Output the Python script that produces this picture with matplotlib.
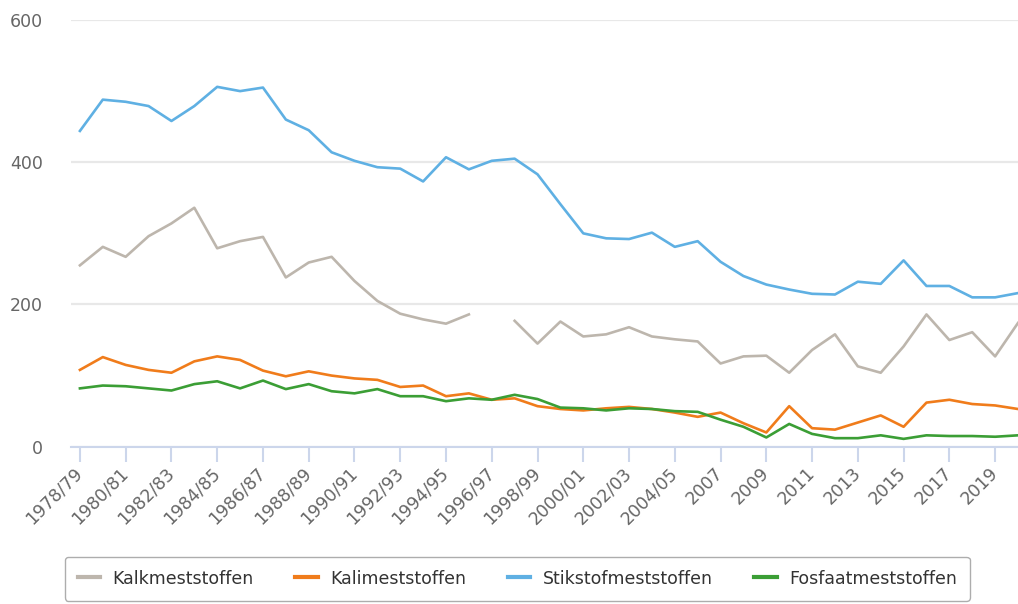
import numpy as np
import matplotlib.pyplot as plt

periods = ["1978/79", "1979/80", "1980/81", "1981/82", "1982/83", "1983/84",
           "1984/85", "1985/86", "1986/87", "1987/88", "1988/89", "1989/90",
           "1990/91", "1991/92", "1992/93", "1993/94", "1994/95", "1995/96",
           "1996/97", "1997/98", "1998/99", "1999/00", "2000/01", "2001/02",
           "2002/03", "2003/04", "2004/05", "2005/06", "2007", "2008", "2009",
           "2010", "2011", "2012", "2013", "2014", "2015", "2016", "2017",
           "2018", "2019", "2020"]

kalk = [255, 281, 267, 296, 314, 336, 279, 289, 295, 238, 259, 267, 233, 205,
        187, 179, 173, 186, np.nan, 177, 145, 176, 155, 158, 168, 155, 151, 148,
        117, 127, 128, 104, 136, 158, 113, 104, 141, 186, 150, 161, 127, 174]
kali = [108, 126, 115, 108, 104, 120, 127, 122, 107, 99, 106, 100, 96, 94,
        84, 86, 71, 75, 66, 68, 57, 53, 51, 54, 56, 53, 48, 42, 48, 33, 20,
        57, 26, 24, 34, 44, 28, 62, 66, 60, 58, 53]
stikstof = [444, 488, 485, 479, 458, 479, 506, 500, 505, 460, 445, 414, 402,
            393, 391, 373, 407, 390, 402, 405, 383, 341, 300, 293, 292, 301,
            281, 289, 260, 240, 228, 221, 215, 214, 232, 229, 262, 226, 226,
            210, 210, 216]
fosfaat = [82, 86, 85, 82, 79, 88, 92, 82, 93, 81, 88, 78, 75, 81, 71, 71,
           64, 68, 66, 73, 67, 55, 54, 51, 54, 53, 50, 49, 38, 28, 13, 32, 18,
           12, 12, 16, 11, 16, 15, 15, 14, 16]

series = [("Kalkmeststoffen", kalk, "#bdb6ad"),
          ("Kalimeststoffen", kali, "#f07c1b"),
          ("Stikstofmeststoffen", stikstof, "#5fb0e3"),
          ("Fosfaatmeststoffen", fosfaat, "#3b9e35")]

fig = plt.figure(figsize=(10.18, 6.04), dpi=100)
ax = fig.add_axes([71 / 1018, 1 - 446.7 / 604, 947 / 1018, 426.7 / 604])

x = np.arange(len(periods))
for name, vals, col in series:
    ax.plot(x, vals, color=col, lw=1.9, label=name, solid_joinstyle="round")

ax.set_xlim(-0.39, 41.0)
ax.set_ylim(0, 600)
ax.set_yticks([0, 200, 400, 600])
ax.grid(axis="y", color="#e8e8e8", lw=1.6)
ax.set_axisbelow(True)
for s in ["top", "right", "left"]:
    ax.spines[s].set_visible(False)
ax.spines["bottom"].set_color("#ccd6eb")
ax.spines["bottom"].set_linewidth(1.5)

ax.set_xticks(x[::2])
ax.set_xticklabels(periods[::2], rotation=45, ha="right", va="center",
                   rotation_mode="anchor")
ax.tick_params(axis="x", colors="#ccd6eb", length=11, width=1.5,
               labelcolor="#666666", labelsize=12.5, pad=6)
ax.tick_params(axis="y", length=0, labelcolor="#666666", labelsize=12.5, pad=20)

leg = fig.legend(loc="upper center", bbox_to_anchor=(0.508, 0.093), ncol=4,
                 fontsize=12.5, frameon=True, handlelength=1.3,
                 handletextpad=0.7, columnspacing=2.4, borderpad=0.75)
leg.get_frame().set_edgecolor("#999999")
leg.get_frame().set_linewidth(1.0)
for t in leg.get_texts():
    t.set_color("#333333")
for h in leg.get_lines():
    h.set_linewidth(3)

fig.savefig("out.png", dpi=100)
